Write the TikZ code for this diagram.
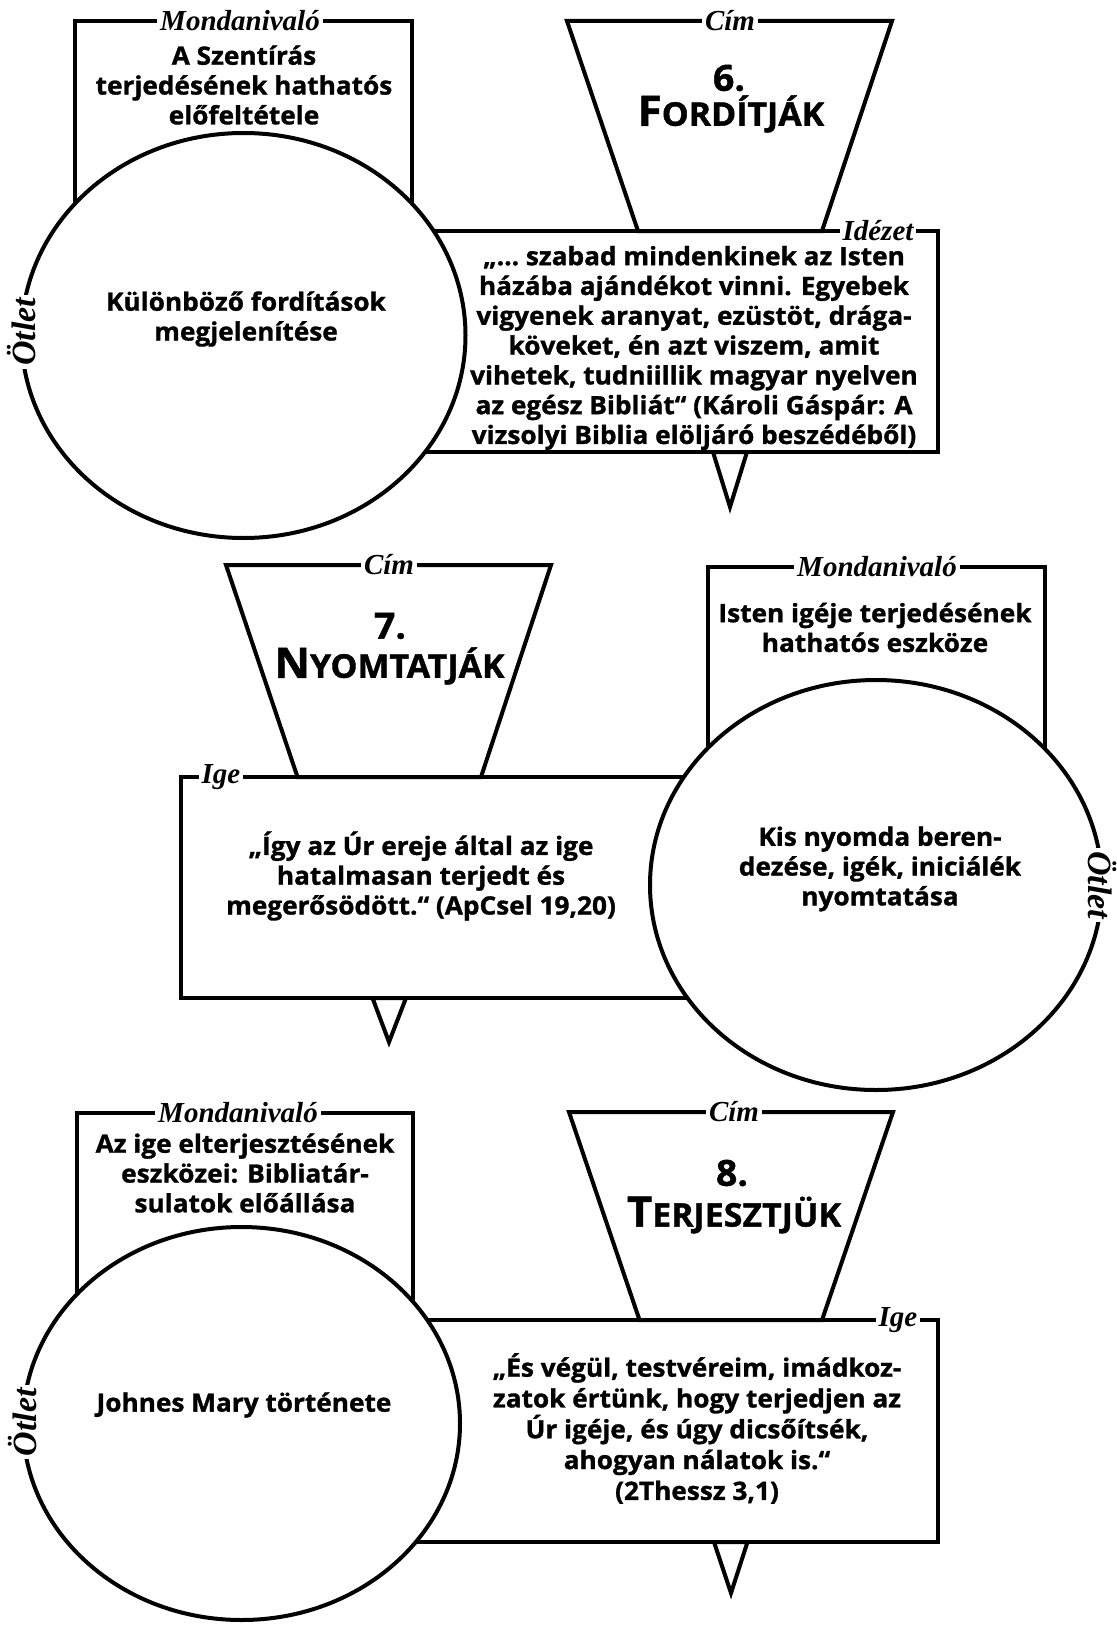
\documentclass[tikz,border=0pt]{standalone}
\usepackage{fontspec}
\setmainfont{Open Sans}[BoldFeatures={FakeBold=1.2, FakeStretch=1.04}]
\newfontfamily\lblfont{Liberation Serif}
\tikzset{
  outline/.style={draw=black, line width=2pt, fill=white, line join=miter, miter limit=10},
  body/.style={font=\bfseries\fontsize{12.6}{14.9}\selectfont, align=center, inner sep=0pt},
  lbl/.style={font=\lblfont\bfseries\itshape\fontsize{14.5}{14}\selectfont, fill=white, inner xsep=1.5pt, inner ysep=0pt},
  lblbig/.style={lbl, font=\lblfont\bfseries\itshape\fontsize{17}{17}\selectfont},
  num/.style={font=\bfseries\fontsize{18}{18}\selectfont, inner sep=0pt},
  ttl/.style={font=\bfseries, inner sep=0pt},
}
\newcommand\smcap[2]{{\fontsize{21}{20}\selectfont #1}{\fontsize{16.3}{20}\selectfont #2}}
\begin{document}
\begin{tikzpicture}[x=0.5pt,y=-0.5pt]
\useasboundingbox (0,0) rectangle (1116,1627);
\fill[white] (0,0) rectangle (1116,1627);

% ---------------- Section 1 ----------------
\draw[outline] (75,250) -- (75,21) -- (412,21) -- (412,250);
\draw[outline] (713,452) -- (730,507) -- (747,452) -- cycle;
\draw[outline] (300,231) rectangle (938,452);
\draw[outline] (567,21) -- (892,21) -- (822,231) -- (638,231) -- cycle;
\draw[outline] (243.5,335.5) ellipse [x radius=222, y radius=202.5];

\node[body] (m1) at (244,85) {A Szentírás\\terjedésének hathatós\\előfeltétele};
\node[num] (n6) at (729,78) {6.};
\node[ttl] (t6) at (731,114) {\smcap{F}{ORDÍTJÁK}};
\node[body] (q1) at (694,348) {„… szabad mindenkinek az Isten\\házába ajándékot vinni. Egyebek\\vigyenek aranyat, ezüstöt, drága-\\köveket, én azt viszem, amit\\vihetek, tudniillik magyar nyelven\\az egész Bibliát“ (Károli Gáspár: A\\vizsolyi Biblia elöljáró beszédéből)};
\node[body] (c1) at (246,319) {Különböző fordítások\\megjelenítése};

\node[lbl] (l1m) at (240,21) {Mondanivaló};
\node[lbl] (l1c) at (730,21) {Cím};
\node[lbl] (l1i) at (878,231) {Idézet};
\node[lblbig, rotate=90] (l1o) at (21.5,332) {Ötlet};

% ---------------- Section 2 ----------------
\draw[outline] (708,800) -- (708,567) -- (1045,567) -- (1045,800);
\draw[outline] (372.5,998) -- (389,1042) -- (406,998) -- cycle;
\draw[outline] (181,777) rectangle (800,998);
\draw[outline] (226,565) -- (551,565) -- (481,777) -- (297.5,777) -- cycle;
\draw[outline] (876,885) ellipse [x radius=226, y radius=205];

\node[num] (n7) at (390,626) {7.};
\node[ttl] (t7) at (389.5,666) {\smcap{N}{YOMTATJÁK}};
\node[body] (m2) at (875,627.5) {Isten igéje terjedésének\\hathatós eszköze};
\node[body] (i2) at (421,876) {„Így az Úr ereje által az ige\\hatalmasan terjedt és\\megerősödött.“ (ApCsel 19,20)};
\node[body] (c2) at (880,869) {Kis nyomda beren-\\dezése, igék, iniciálék\\nyomtatása};

\node[lbl] (l2c) at (389,565) {Cím};
\node[lbl] (l2m) at (877,567) {Mondanivaló};
\node[lbl] (l2i) at (221,777) {Ige};
\node[lblbig, rotate=-90] (l2o) at (1102,885) {Ötlet};

% ---------------- Section 3 ----------------
\draw[outline] (77,1330) -- (77,1113) -- (413,1113) -- (413,1330);
\draw[outline] (714,1542) -- (731,1593) -- (747.5,1542) -- cycle;
\draw[outline] (300,1320) rectangle (938,1542);
\draw[outline] (569,1112) -- (893,1112) -- (822,1320) -- (639.5,1320) -- cycle;
\draw[outline] (241.5,1423.5) ellipse [x radius=218.5, y radius=196.5];

\node[body] (m3) at (245,1173) {Az ige elterjesztésének\\eszközei: Bibliatár-\\sulatok előállása};
\node[num] (n8) at (732,1173) {8.};
\node[ttl] (t8) at (734,1215) {\smcap{T}{ERJESZTJÜK}};
\node[body, font=\bfseries\fontsize{12.6}{15.4}\selectfont] (i3) at (697,1428.5) {„És végül, testvéreim, imádkoz-\\zatok értünk, hogy terjedjen az\\Úr igéje, és úgy dicsőítsék,\\ahogyan nálatok is.“\\(2Thessz 3,1)};
\node[body] (c3) at (244,1405) {Johnes Mary története};

\node[lbl] (l3m) at (238,1113) {Mondanivaló};
\node[lbl] (l3c) at (734,1112) {Cím};
\node[lbl] (l3i) at (898,1320) {Ige};
\node[lblbig, rotate=90] (l3o) at (23,1422) {Ötlet};
\end{tikzpicture}
\end{document}
